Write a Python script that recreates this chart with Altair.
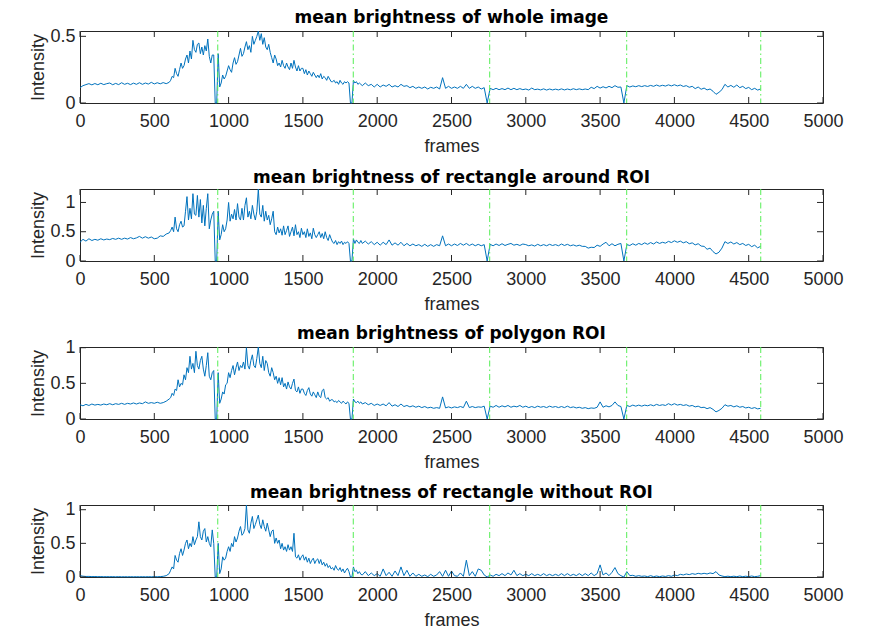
import altair as alt
import pandas as pd

# sample frames: every 20 frames, every 10 frames in the busy 600-1900 stretch
frames = list(range(0, 600, 20)) + list(range(600, 1900, 10)) + list(range(1900, 4600, 20))

whole_image = [
    # 0-580 (step 20)
    0.115, 0.13, 0.138, 0.145, 0.136, 0.146, 0.137, 0.148, 0.138, 0.145,
    0.15, 0.137, 0.147, 0.138, 0.152, 0.14, 0.148, 0.138, 0.149, 0.14,
    0.152, 0.14, 0.15, 0.142, 0.155, 0.143, 0.152, 0.144, 0.153, 0.145,
    # 600-1890 (step 10)
    0.155, 0.17, 0.2, 0.19, 0.26, 0.22, 0.2, 0.25, 0.3, 0.26,
    0.28, 0.33, 0.36, 0.3, 0.39, 0.33, 0.47, 0.4, 0.38, 0.44,
    0.45, 0.37, 0.42, 0.36, 0.43, 0.39, 0.48, 0.35, 0.3, 0.36,
    0.36, 0.0, 0.0, 0.37, 0.12, 0.15, 0.21, 0.18, 0.2, 0.24,
    0.28, 0.25, 0.23, 0.3, 0.34, 0.29, 0.31, 0.36, 0.41, 0.35,
    0.37, 0.42, 0.46, 0.4, 0.43, 0.38, 0.5, 0.44, 0.47, 0.5,
    0.54, 0.47, 0.52, 0.44, 0.49, 0.42, 0.4, 0.44, 0.38, 0.34,
    0.3, 0.36, 0.33, 0.28, 0.3, 0.27, 0.32, 0.28, 0.26, 0.3,
    0.27, 0.25, 0.3, 0.26, 0.32, 0.27, 0.24, 0.28, 0.24, 0.26,
    0.26, 0.22, 0.25, 0.21, 0.24, 0.22, 0.2, 0.23, 0.21, 0.19,
    0.21, 0.19, 0.22, 0.18, 0.2, 0.19, 0.17, 0.2, 0.18, 0.16,
    0.16, 0.17, 0.15, 0.16, 0.14, 0.17, 0.15, 0.14, 0.16, 0.15,
    0.16, 0.15, 0.0, 0.0, 0.17, 0.15, 0.16, 0.14, 0.15, 0.14,
    # 1900-4580 (step 20)
    0.13, 0.15, 0.13, 0.14, 0.12,
    0.14, 0.12, 0.135, 0.125, 0.14, 0.12, 0.13, 0.12, 0.14, 0.125,
    0.13, 0.115, 0.125, 0.11, 0.12, 0.11, 0.12, 0.105, 0.118, 0.11,
    0.12, 0.105, 0.19, 0.11, 0.125, 0.11, 0.12, 0.11, 0.125, 0.11,
    0.14, 0.11, 0.125, 0.11, 0.12, 0.105, 0.115, 0.0, 0.11, 0.1,
    0.11, 0.1, 0.108, 0.1, 0.112, 0.1, 0.11, 0.1, 0.108, 0.1,
    0.105, 0.097, 0.112, 0.1, 0.104, 0.098, 0.106, 0.097, 0.105, 0.098,
    0.104, 0.098, 0.106, 0.098, 0.105, 0.099, 0.107, 0.1, 0.106, 0.1,
    0.105, 0.1, 0.118, 0.108, 0.125, 0.112, 0.122, 0.113, 0.125, 0.115,
    0.13, 0.118, 0.12, 0.0, 0.13, 0.12, 0.128, 0.122, 0.13, 0.123,
    0.13, 0.124, 0.132, 0.125, 0.135, 0.126, 0.133, 0.127, 0.136, 0.128,
    0.137, 0.128, 0.135, 0.124, 0.13, 0.118, 0.125, 0.108, 0.12, 0.103,
    0.112, 0.098, 0.105, 0.088, 0.065, 0.08, 0.1, 0.14, 0.12, 0.132,
    0.118, 0.135, 0.115, 0.125, 0.108, 0.117, 0.1, 0.11, 0.097, 0.105,
]

rect_around = [
    # 0-580
    0.32, 0.37, 0.34, 0.38, 0.35, 0.37, 0.355, 0.38, 0.36, 0.375,
    0.365, 0.385, 0.37, 0.39, 0.37, 0.39, 0.375, 0.4, 0.38, 0.395,
    0.42, 0.39, 0.415, 0.39, 0.41, 0.38, 0.39, 0.43, 0.42, 0.46,
    # 600-1890
    0.48, 0.52, 0.58, 0.5, 0.75, 0.55, 0.5, 0.62, 0.68, 0.58,
    0.6, 0.85, 1.1, 0.7, 0.9, 0.72, 1.15, 0.8, 0.78, 1.12,
    0.75, 1.05, 0.65, 0.95, 0.6, 0.9, 1.15, 0.55, 0.7, 0.8,
    0.85, 0.0, 0.0, 0.85, 0.36, 0.45, 0.62, 0.5, 0.55, 0.7,
    1.0, 0.68, 0.8, 0.72, 0.88, 0.7, 0.98, 0.75, 0.7, 0.9,
    0.7, 0.95, 1.08, 0.75, 0.85, 0.72, 0.95, 0.8, 0.7, 0.85,
    1.23, 0.8, 0.75, 0.95, 0.68, 0.85, 0.7, 0.78, 0.62, 0.72,
    0.85, 0.5, 0.45, 0.58, 0.48, 0.55, 0.44, 0.6, 0.45, 0.52,
    0.6, 0.42, 0.5, 0.58, 0.43, 0.62, 0.45, 0.5, 0.4, 0.56,
    0.45, 0.5, 0.4, 0.55, 0.42, 0.48, 0.38, 0.56, 0.45, 0.4,
    0.45, 0.5, 0.4, 0.47, 0.38, 0.5, 0.4, 0.35, 0.45, 0.38,
    0.32, 0.3, 0.35, 0.28, 0.33, 0.3, 0.34, 0.28, 0.32, 0.3,
    0.33, 0.3, 0.0, 0.0, 0.38, 0.3, 0.36, 0.32, 0.3, 0.35,
    # 1900-4580
    0.3, 0.34, 0.29, 0.33, 0.28,
    0.32, 0.27, 0.32, 0.28, 0.36, 0.27, 0.31, 0.27, 0.32, 0.26,
    0.3, 0.26, 0.29, 0.26, 0.28, 0.25, 0.285, 0.25, 0.28, 0.25,
    0.28, 0.26, 0.43, 0.26, 0.29, 0.26, 0.29, 0.265, 0.3, 0.27,
    0.3, 0.265, 0.29, 0.26, 0.285, 0.26, 0.28, 0.0, 0.285, 0.26,
    0.29, 0.265, 0.295, 0.265, 0.285, 0.3, 0.27, 0.285, 0.265, 0.29,
    0.28, 0.26, 0.275, 0.255, 0.285, 0.26, 0.28, 0.26, 0.285, 0.265,
    0.28, 0.26, 0.29, 0.265, 0.285, 0.26, 0.275, 0.255, 0.27, 0.25,
    0.25, 0.22, 0.235, 0.23, 0.27, 0.25, 0.29, 0.32, 0.26, 0.295,
    0.26, 0.285, 0.3, 0.0, 0.28, 0.265, 0.295, 0.27, 0.3, 0.28,
    0.31, 0.285, 0.315, 0.29, 0.325, 0.3, 0.32, 0.305, 0.335, 0.315,
    0.345, 0.32, 0.34, 0.31, 0.33, 0.295, 0.31, 0.275, 0.295, 0.255,
    0.25, 0.2, 0.22, 0.16, 0.12, 0.15, 0.22, 0.33, 0.3, 0.325,
    0.29, 0.315, 0.28, 0.3, 0.265, 0.285, 0.245, 0.27, 0.225, 0.25,
]

polygon_roi = [
    # 0-580
    0.2, 0.185, 0.205, 0.19, 0.21, 0.195, 0.205, 0.195, 0.21, 0.2,
    0.215, 0.2, 0.215, 0.205, 0.22, 0.205, 0.22, 0.21, 0.225, 0.21,
    0.225, 0.215, 0.24, 0.22, 0.23, 0.22, 0.235, 0.22, 0.23, 0.25,
    # 600-1890
    0.28, 0.3, 0.36, 0.33, 0.42, 0.4, 0.55, 0.45, 0.5, 0.48,
    0.62, 0.55, 0.72, 0.65, 0.88, 0.7, 0.78, 0.65, 0.95, 0.75,
    0.7, 0.82, 0.88, 0.7, 0.6, 0.75, 0.93, 0.6, 0.55, 0.65,
    0.68, 0.0, 0.0, 0.65, 0.22, 0.28, 0.38, 0.35, 0.48, 0.5,
    0.65, 0.58, 0.68, 0.75, 0.62, 0.72, 0.8, 0.68, 0.75, 0.72,
    0.8, 0.7, 1.0, 0.75, 0.7, 0.82, 0.9, 0.75, 0.72, 0.85,
    1.01, 0.78, 0.72, 0.88, 0.68, 0.82, 0.78, 0.65, 0.6, 0.72,
    0.65, 0.55, 0.6, 0.5, 0.58, 0.48, 0.58, 0.45, 0.5, 0.42,
    0.52, 0.45, 0.42, 0.5, 0.56, 0.4, 0.38, 0.45, 0.36, 0.42,
    0.42, 0.36, 0.33, 0.4, 0.44, 0.35, 0.32, 0.38, 0.34, 0.3,
    0.38, 0.32, 0.3, 0.4, 0.42, 0.3, 0.28, 0.3, 0.25, 0.27,
    0.27, 0.24, 0.25, 0.23, 0.26, 0.24, 0.22, 0.25, 0.23, 0.21,
    0.24, 0.22, 0.0, 0.0, 0.28, 0.24, 0.23, 0.25, 0.22, 0.24,
    # 1900-4580
    0.21, 0.23, 0.2, 0.22, 0.19,
    0.21, 0.19, 0.21, 0.185, 0.23, 0.18, 0.2, 0.175, 0.21, 0.175,
    0.19, 0.17, 0.185, 0.165, 0.18, 0.16, 0.175, 0.155, 0.165, 0.15,
    0.16, 0.15, 0.31, 0.155, 0.17, 0.155, 0.17, 0.16, 0.175, 0.16,
    0.25, 0.16, 0.175, 0.16, 0.17, 0.165, 0.18, 0.0, 0.18, 0.165,
    0.19, 0.165, 0.185, 0.17, 0.19, 0.165, 0.18, 0.17, 0.19, 0.165,
    0.18, 0.16, 0.175, 0.16, 0.18, 0.165, 0.175, 0.16, 0.18, 0.165,
    0.175, 0.16, 0.175, 0.16, 0.18, 0.16, 0.17, 0.155, 0.165, 0.15,
    0.16, 0.145, 0.155, 0.15, 0.165, 0.24, 0.165, 0.185, 0.17, 0.19,
    0.24, 0.19, 0.175, 0.0, 0.19, 0.175, 0.195, 0.18, 0.195, 0.18,
    0.195, 0.185, 0.2, 0.185, 0.205, 0.19, 0.2, 0.19, 0.215, 0.195,
    0.215, 0.195, 0.205, 0.19, 0.2, 0.18, 0.19, 0.17, 0.18, 0.16,
    0.165, 0.145, 0.16, 0.135, 0.1, 0.12, 0.15, 0.2, 0.18, 0.19,
    0.17, 0.185, 0.165, 0.175, 0.155, 0.165, 0.148, 0.16, 0.142, 0.15,
]

rect_without = [
    # 0-580
    0.02, 0.012, 0.008, 0.009, 0.006, 0.007, 0.005, 0.006, 0.004, 0.005,
    0.004, 0.005, 0.003, 0.005, 0.003, 0.004, 0.003, 0.004, 0.003, 0.004,
    0.003, 0.004, 0.003, 0.004, 0.003, 0.005, 0.004, 0.006, 0.01, 0.02,
    # 600-1890
    0.05, 0.1, 0.15, 0.12, 0.32, 0.25, 0.22, 0.35, 0.42, 0.32,
    0.4, 0.5, 0.55, 0.42, 0.5, 0.45, 0.6, 0.48, 0.55, 0.6,
    0.82, 0.6, 0.55, 0.68, 0.72, 0.52, 0.6, 0.5, 0.45, 0.7,
    0.5, 0.0, 0.0, 0.5, 0.05, 0.12, 0.3, 0.25, 0.28, 0.38,
    0.45, 0.38, 0.5, 0.45, 0.6, 0.52, 0.58, 0.68, 0.75, 0.62,
    0.65, 0.72, 1.07, 0.7, 0.65, 0.8, 0.9, 0.72, 0.78, 0.85,
    0.92, 0.78, 0.72, 0.85, 0.75, 0.68, 0.8, 0.7, 0.6, 0.68,
    0.7, 0.5, 0.58, 0.5, 0.55, 0.42, 0.5, 0.4, 0.45, 0.38,
    0.48, 0.4, 0.45, 0.38, 0.65, 0.3, 0.28, 0.33, 0.25, 0.3,
    0.33, 0.25, 0.3, 0.22, 0.28, 0.2, 0.25, 0.28, 0.2, 0.25,
    0.27, 0.2, 0.26, 0.18, 0.22, 0.16, 0.2, 0.14, 0.17, 0.12,
    0.14, 0.1, 0.17, 0.12, 0.1, 0.14, 0.08, 0.12, 0.06, 0.1,
    0.13, 0.08, 0.0, 0.0, 0.15, 0.08, 0.1, 0.05, 0.08, 0.04,
    # 1900-4580
    0.03, 0.08, 0.02, 0.06, 0.02,
    0.05, 0.01, 0.12, 0.02, 0.07, 0.01, 0.09, 0.02, 0.15, 0.02,
    0.1, 0.01, 0.06, 0.01, 0.04, 0.01, 0.03, 0.005, 0.04, 0.01,
    0.03, 0.08, 0.01, 0.1, 0.01, 0.09, 0.02, 0.01, 0.06, 0.01,
    0.25, 0.02, 0.08, 0.01, 0.12, 0.1, 0.03, 0.0, 0.03, 0.01,
    0.04, 0.02, 0.05, 0.02, 0.06, 0.03, 0.1, 0.02, 0.05, 0.02,
    0.04, 0.02, 0.05, 0.02, 0.04, 0.02, 0.05, 0.02, 0.04, 0.02,
    0.04, 0.02, 0.05, 0.02, 0.05, 0.02, 0.04, 0.02, 0.05, 0.02,
    0.05, 0.02, 0.06, 0.02, 0.05, 0.18, 0.03, 0.06, 0.02, 0.07,
    0.14, 0.05, 0.02, 0.0, 0.08, 0.02, 0.025, 0.01, 0.02, 0.01,
    0.015, 0.005, 0.02, 0.005, 0.015, 0.005, 0.015, 0.008, 0.02, 0.01,
    0.03, 0.02, 0.04, 0.03, 0.045, 0.035, 0.05, 0.04, 0.055, 0.045,
    0.055, 0.045, 0.06, 0.05, 0.08, 0.03, 0.015, 0.005, 0.012, 0.005,
    0.012, 0.005, 0.015, 0.005, 0.012, 0.005, 0.015, 0.005, 0.01, 0.02,
]

titles = [
    "mean brightness of whole image",
    "mean brightness of rectangle around ROI",
    "mean brightness of polygon ROI",
    "mean brightness of rectangle without ROI",
]
series = [whole_image, rect_around, polygon_roi, rect_without]
y_max = [0.54, 1.23, 1.01, 1.07]
y_ticks = [[0, 0.5], [0, 0.5, 1], [0, 0.5, 1], [0, 0.5, 1]]
title_offsets = [0, 0, -4.5, -1]
x_ticks = list(range(0, 5001, 500))
segment_bounds = [927, 1839, 2757, 3679, 4581]

W, H = 743, 72
TICK = 6
AX = "#262626"
FONT = "Liberation Sans"


def panel(vals, title, ymax, yt, toff):
    df = pd.DataFrame({"frame": frames, "v": vals})
    xs = alt.Scale(domain=[0, 5000], nice=False, zero=False)
    ys = alt.Scale(domain=[0, ymax], nice=False, zero=False)
    xax = alt.Axis(values=x_ticks, title="frames", format="d", labelFlush=False)
    yax = alt.Axis(values=yt, title="Intensity", format="~g")
    line = alt.Chart(df).mark_line(color="#0072BD", strokeWidth=1).encode(
        x=alt.X("frame:Q", scale=xs, axis=xax),
        y=alt.Y("v:Q", scale=ys, axis=yax),
    )
    vl = alt.Chart(pd.DataFrame({"b": segment_bounds})).mark_rule(
        color="#55ee55", strokeWidth=1, strokeDash=[6, 3, 1.5, 3]
    ).encode(x=alt.X("b:Q", scale=xs, axis=xax))
    xt = pd.DataFrame({"t": x_ticks})
    yt_df = pd.DataFrame({"t": yt})
    tb = alt.Chart(xt).mark_rule(color=AX, strokeWidth=1).encode(
        x=alt.X("t:Q", scale=xs, axis=xax), y=alt.value(H), y2=alt.value(H - TICK))
    tt = alt.Chart(xt).mark_rule(color=AX, strokeWidth=1).encode(
        x=alt.X("t:Q", scale=xs, axis=xax), y=alt.value(0), y2=alt.value(TICK))
    tl = alt.Chart(yt_df).mark_rule(color=AX, strokeWidth=1).encode(
        y=alt.Y("t:Q", scale=ys, axis=yax), x=alt.value(0), x2=alt.value(TICK))
    tr = alt.Chart(yt_df).mark_rule(color=AX, strokeWidth=1).encode(
        y=alt.Y("t:Q", scale=ys, axis=yax), x=alt.value(W - TICK), x2=alt.value(W))
    return alt.layer(line, vl, tb, tt, tl, tr).properties(
        width=W, height=H,
        title=alt.TitleParams(title, fontSize=17, font="DejaVu Sans",
                              fontWeight="bold", color="#000000",
                              offset=toff, anchor="middle"),
    )


chart = alt.vconcat(
    *[panel(s, t, m, yt, o) for s, t, m, yt, o in
      zip(series, titles, y_max, y_ticks, title_offsets)],
    spacing=86,
    bounds="flush",
).properties(
    padding={"left": 21, "top": 0, "right": 5, "bottom": 0}
).configure_view(
    stroke=AX, strokeWidth=1
).configure_axis(
    domain=False, ticks=False, grid=False,
    labelFont=FONT, labelFontSize=18, labelColor=AX,
    titleFont=FONT, titleFontSize=18, titleColor=AX, titleFontWeight="normal",
).configure_axisX(
    labelPadding=9, titlePadding=7,
).configure_axisY(
    labelPadding=5, titlePadding=2,
)

chart.save("out.html", embed_options={"renderer": "svg", "actions": False})
